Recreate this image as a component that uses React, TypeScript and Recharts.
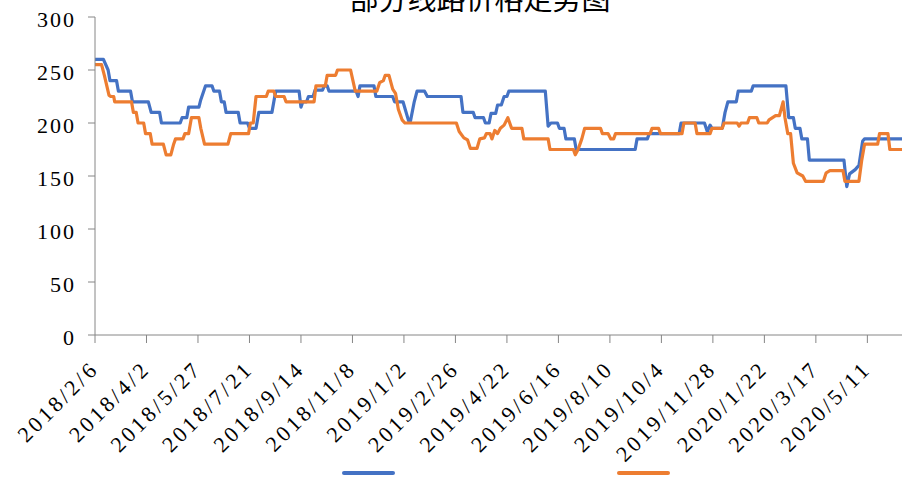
import React from "react";
import { LineChart, Line, XAxis, YAxis } from "recharts";

// x-axis labels, one every 55 days starting 2018/2/6
const TICK_LABELS = [
  "2018/2/6", "2018/4/2", "2018/5/27", "2018/7/21", "2018/9/14", "2018/11/8",
  "2019/1/2", "2019/2/26", "2019/4/22", "2019/6/16", "2019/8/10", "2019/10/4",
  "2019/11/28", "2020/1/22", "2020/3/17", "2020/5/11",
];
const TICK_STEP_DAYS = 55;
const LAST_DAY = 862;
const Y_TICKS = [0, 50, 100, 150, 200, 250, 300];

// [days since 2018/2/6, price] where the price changes
const BLUE_LINE: [number, number][] = [
  [0, 260], [9, 260], [14, 250], [16, 240], [23, 240], [25, 230], [38, 230], [40, 220],
  [57, 220], [60, 210], [69, 210], [71, 200], [91, 200], [93, 205], [98, 205], [100, 215],
  [111, 215], [113, 222], [118, 235], [125, 235], [127, 230], [133, 230], [135, 220], [138, 220],
  [140, 210], [153, 210], [155, 200], [163, 200], [165, 195], [172, 195], [175, 210], [189, 210],
  [193, 230], [218, 230], [220, 215], [222, 220], [226, 220], [228, 225], [233, 225], [235, 231],
  [243, 231], [245, 235], [248, 235], [250, 230], [279, 230], [281, 225], [283, 235], [298, 235],
  [300, 225], [318, 225], [320, 220], [329, 220], [335, 202], [337, 202], [341, 220], [344, 230],
  [352, 230], [355, 225], [391, 225], [393, 210], [404, 210], [406, 205], [415, 205], [417, 200],
  [421, 200], [423, 209], [428, 209], [430, 217], [434, 217], [437, 225], [440, 225], [442, 230],
  [481, 230], [484, 197], [487, 200], [494, 200], [496, 195], [501, 195], [503, 185], [512, 185],
  [514, 175], [577, 175], [579, 185], [590, 185], [592, 190], [624, 190], [626, 200], [651, 200],
  [654, 192], [657, 198], [659, 195], [670, 195], [673, 210], [676, 220], [685, 220], [687, 230],
  [701, 230], [703, 235], [738, 235], [741, 205], [746, 205], [748, 195], [753, 195], [755, 185],
  [761, 185], [763, 165], [800, 165], [803, 140], [806, 152], [812, 156], [816, 160], [820, 183],
  [822, 185], [862, 185],
];

const ORANGE_LINE: [number, number][] = [
  [0, 255], [7, 255], [10, 245], [15, 226], [17, 225], [20, 225], [21, 220], [39, 220],
  [41, 210], [44, 210], [46, 200], [52, 200], [54, 190], [59, 190], [61, 180], [73, 180],
  [76, 170], [81, 170], [84, 180], [86, 185], [94, 185], [96, 190], [100, 190], [103, 205],
  [111, 205], [113, 195], [117, 180], [142, 180], [145, 190], [164, 190], [166, 200], [169, 200],
  [172, 225], [183, 225], [185, 230], [191, 230], [193, 225], [202, 225], [204, 220], [234, 220],
  [236, 235], [246, 235], [248, 245], [257, 245], [259, 250], [273, 250], [278, 230], [301, 230],
  [304, 238], [308, 240], [310, 245], [314, 245], [318, 232], [321, 228], [324, 213], [328, 203],
  [331, 200], [386, 200], [389, 192], [394, 186], [398, 184], [401, 176], [408, 176], [411, 185],
  [416, 186], [418, 190], [422, 190], [424, 185], [427, 193], [430, 190], [433, 195], [437, 198],
  [441, 205], [445, 195], [456, 195], [458, 185], [484, 185], [486, 175], [511, 175], [513, 170],
  [516, 175], [520, 185], [523, 195], [540, 195], [542, 190], [548, 190], [551, 185], [554, 185],
  [556, 190], [593, 190], [595, 195], [602, 195], [604, 190], [627, 190], [629, 200], [641, 200],
  [643, 190], [657, 190], [659, 195], [670, 195], [672, 200], [686, 200], [688, 197], [690, 200],
  [697, 200], [699, 205], [707, 205], [709, 200], [718, 200], [720, 203], [727, 207], [731, 207],
  [735, 220], [737, 205], [740, 190], [743, 190], [746, 162], [750, 153], [756, 150], [759, 145],
  [778, 145], [781, 153], [785, 155], [799, 155], [801, 145], [816, 145], [819, 165], [822, 180],
  [836, 180], [838, 190], [847, 190], [849, 175], [862, 175],
];

const SERIES = [
  { key: "blue", points: BLUE_LINE, color: "#4472C4", legendLeft: 342 },
  { key: "orange", points: ORANGE_LINE, color: "#ED7D31", legendLeft: 617 },
];

const toRows = (points: [number, number][]) => points.map(([day, price]) => ({ day, price }));
const tickDays = TICK_LABELS.map((_, i) => i * TICK_STEP_DAYS);
const labelFor = (day: number) => TICK_LABELS[Math.round(day / TICK_STEP_DAYS)] ?? "";

const AXIS_COLOR = "#868686";
const LABEL_FONT = "'Liberation Serif', 'Times New Roman', serif";

const XTick = (props: any) => {
  const { x, y, payload } = props;
  const ax = x + 5;
  const ay = y + 27;
  return (
    <text
      x={ax}
      y={ay}
      textAnchor="end"
      transform={`rotate(-45, ${ax}, ${ay})`}
      fontFamily={LABEL_FONT}
      fontSize={22}
      letterSpacing={3.2}
      fill="#000"
    >
      {labelFor(payload.value)}
    </text>
  );
};

const YTick = (props: any) => {
  const { x, y, payload } = props;
  return (
    <text
      x={x - 12}
      y={y + 10}
      textAnchor="end"
      fontFamily={LABEL_FONT}
      fontSize={22}
      letterSpacing={2}
      fill="#000"
    >
      {payload.value}
    </text>
  );
};

export default function App() {
  return (
    <div style={{ position: "absolute", left: 0, top: 0, width: 902, height: 484, background: "#fff", overflow: "hidden" }}>
      <LineChart width={902} height={484} margin={{ top: 17, right: 0, bottom: 29, left: 0 }}>
        <XAxis
          type="number"
          dataKey="day"
          domain={[0, LAST_DAY]}
          ticks={tickDays}
          interval={0}
          tick={<XTick />}
          tickSize={8}
          tickMargin={0}
          height={120}
          stroke={AXIS_COLOR}
          allowDataOverflow
        />
        <YAxis
          type="number"
          domain={[0, 300]}
          ticks={Y_TICKS}
          interval={0}
          tick={<YTick />}
          tickSize={7}
          tickMargin={0}
          width={95}
          stroke={AXIS_COLOR}
        />
        {SERIES.map((s) => (
          <Line
            key={s.key}
            data={toRows(s.points)}
            type="linear"
            dataKey="price"
            stroke={s.color}
            strokeWidth={3.2}
            strokeLinejoin="round"
            dot={false}
            activeDot={false}
            isAnimationActive={false}
          />
        ))}
      </LineChart>

      {/* title, cut off by the top edge as in the original */}
      <svg width={902} height={40} style={{ position: "absolute", left: 0, top: 0 }}>
        <text
          x={480}
          y={10}
          textAnchor="middle"
          fontFamily="'Noto Sans CJK SC', sans-serif"
          fontSize={29}
          fill="#000"
        >
          部分线路价格走势图
        </text>
      </svg>

      {/* legend: line markers only, no visible names */}
      {SERIES.map((s) => (
        <div
          key={s.key}
          style={{
            position: "absolute",
            left: s.legendLeft,
            top: 471,
            width: 53,
            height: 3.5,
            borderRadius: 2,
            background: s.color,
          }}
        />
      ))}
    </div>
  );
}
